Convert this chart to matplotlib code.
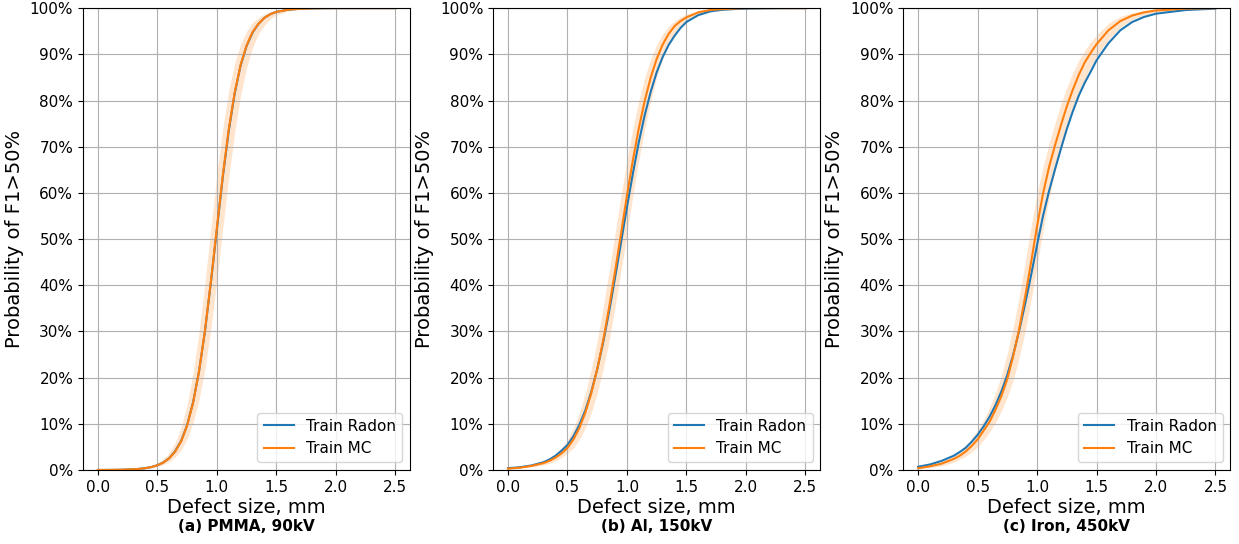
import matplotlib
matplotlib.use("Agg")
import matplotlib.pyplot as plt
from matplotlib.ticker import PercentFormatter

# defect sizes, mm
x = [0.0, 0.1, 0.2, 0.3, 0.35, 0.4, 0.45, 0.5, 0.55, 0.6, 0.65, 0.7, 0.75, 0.8, 0.85,
     0.9, 0.95, 1.0, 1.05, 1.1, 1.15, 1.2, 1.25, 1.3, 1.35, 1.4, 1.45, 1.5,
     1.6, 1.7, 1.8, 1.9, 2.0, 2.25, 2.5]

# (a) PMMA, 90kV
pmma_radon = [0.0001, 0.0002, 0.0006, 0.0016, 0.0026, 0.0041, 0.0065, 0.0103, 0.0163, 0.0258,
              0.041, 0.063, 0.097, 0.146, 0.213, 0.300, 0.406, 0.520, 0.634, 0.734,
              0.815, 0.876, 0.918, 0.947, 0.966, 0.979, 0.987, 0.992,
              0.9967, 0.9987, 0.9995, 0.9998, 1.0, 1.0, 1.0]
pmma_mc = [0.0001, 0.0002, 0.0006, 0.0016, 0.0025, 0.004, 0.0064, 0.0102, 0.0161, 0.0255,
           0.040, 0.062, 0.096, 0.145, 0.213, 0.301, 0.408, 0.523, 0.637, 0.737,
           0.817, 0.877, 0.919, 0.948, 0.966, 0.979, 0.987, 0.992,
           0.9967, 0.9987, 0.9995, 0.9998, 1.0, 1.0, 1.0]
pmma_mc_hi = [0.0001, 0.0003, 0.0009, 0.0022, 0.0036, 0.0058, 0.0093, 0.0149, 0.0239, 0.0378,
              0.0594, 0.092, 0.141, 0.209, 0.298, 0.406, 0.524, 0.639, 0.740, 0.821,
              0.881, 0.922, 0.950, 0.969, 0.980, 0.9876, 0.9923, 0.9952,
              0.9981, 0.9993, 0.9997, 0.9999, 1.0, 1.0, 1.0]
pmma_mc_lo = [0.0001, 0.0002, 0.0005, 0.0012, 0.0019, 0.0030, 0.0047, 0.0073, 0.0115, 0.018,
              0.028, 0.0435, 0.067, 0.102, 0.151, 0.219, 0.306, 0.410, 0.523, 0.633,
              0.731, 0.811, 0.871, 0.914, 0.944, 0.963, 0.977, 0.985,
              0.9939, 0.9975, 0.999, 0.9996, 0.9998, 1.0, 1.0]

# (b) Al, 150kV
al_radon = [0.004, 0.006, 0.010, 0.017, 0.023, 0.031, 0.042, 0.054, 0.073, 0.098,
            0.129, 0.169, 0.218, 0.276, 0.343, 0.416, 0.492, 0.569, 0.642, 0.710,
            0.769, 0.819, 0.861, 0.894, 0.920, 0.940, 0.957, 0.970,
            0.985, 0.993, 0.9965, 0.998, 0.999, 0.9998, 1.0]
al_mc = [0.003, 0.005, 0.009, 0.015, 0.020, 0.027, 0.036, 0.048, 0.066, 0.091,
         0.124, 0.166, 0.218, 0.280, 0.352, 0.430, 0.511, 0.594, 0.671, 0.740,
         0.800, 0.850, 0.890, 0.921, 0.944, 0.961, 0.972, 0.980,
         0.991, 0.996, 0.998, 0.999, 1.0, 1.0, 1.0]
al_mc_hi = [0.004, 0.007, 0.012, 0.020, 0.027, 0.036, 0.048, 0.066, 0.091, 0.124,
            0.166, 0.218, 0.280, 0.352, 0.430, 0.511, 0.594, 0.671, 0.740, 0.800,
            0.850, 0.890, 0.921, 0.944, 0.961, 0.972, 0.981, 0.987,
            0.994, 0.998, 0.999, 1.0, 1.0, 1.0, 1.0]
al_mc_lo = [0.002, 0.004, 0.007, 0.011, 0.015, 0.020, 0.027, 0.036, 0.048, 0.066,
            0.091, 0.124, 0.166, 0.218, 0.280, 0.352, 0.430, 0.511, 0.594, 0.671,
            0.740, 0.800, 0.850, 0.890, 0.921, 0.944, 0.959, 0.970,
            0.984, 0.992, 0.996, 0.998, 0.999, 1.0, 1.0]

# (c) Iron, 450kV
fe_radon = [0.007, 0.012, 0.020, 0.031, 0.039, 0.048, 0.061, 0.076, 0.094, 0.115,
            0.140, 0.170, 0.206, 0.250, 0.302, 0.360, 0.422, 0.487, 0.550, 0.603,
            0.650, 0.695, 0.738, 0.776, 0.810, 0.838, 0.862, 0.887,
            0.924, 0.952, 0.970, 0.981, 0.988, 0.996, 0.999]
fe_mc = [0.004, 0.008, 0.014, 0.024, 0.031, 0.040, 0.052, 0.066, 0.085, 0.104,
         0.130, 0.160, 0.197, 0.247, 0.305, 0.375, 0.450, 0.528, 0.598, 0.655,
         0.702, 0.746, 0.787, 0.823, 0.855, 0.882, 0.903, 0.922,
         0.952, 0.972, 0.984, 0.991, 0.995, 0.999, 1.0]
fe_mc_hi = [0.006, 0.011, 0.019, 0.032, 0.041, 0.053, 0.068, 0.087, 0.108, 0.135,
            0.166, 0.205, 0.252, 0.310, 0.375, 0.450, 0.527, 0.598, 0.656, 0.706,
            0.750, 0.792, 0.828, 0.860, 0.887, 0.908, 0.927, 0.942,
            0.967, 0.982, 0.990, 0.995, 0.998, 1.0, 1.0]
fe_mc_lo = [0.002, 0.005, 0.009, 0.017, 0.023, 0.030, 0.039, 0.050, 0.065, 0.082,
            0.102, 0.128, 0.158, 0.195, 0.243, 0.300, 0.368, 0.442, 0.518, 0.588,
            0.645, 0.695, 0.740, 0.780, 0.815, 0.845, 0.872, 0.895,
            0.932, 0.958, 0.975, 0.985, 0.991, 0.997, 1.0]

panels = [
    ("(a) PMMA, 90kV", pmma_radon, pmma_mc, pmma_mc_lo, pmma_mc_hi),
    ("(b) Al, 150kV", al_radon, al_mc, al_mc_lo, al_mc_hi),
    ("(c) Iron, 450kV", fe_radon, fe_mc, fe_mc_lo, fe_mc_hi),
]

fig = plt.figure(figsize=(12.39, 5.44), dpi=100)
lefts = [0.067, 0.398, 0.729]

for left, (caption, radon, mc, lo, hi) in zip(lefts, panels):
    ax = fig.add_axes([left, 0.136, 0.264, 0.849])
    ax.fill_between(x, lo, hi, color="C1", alpha=0.2, linewidth=0)
    ax.plot(x, radon, color="C0", label="Train Radon")
    ax.plot(x, mc, color="C1", label="Train MC")
    ax.set_ylim(0, 1)
    ax.set_xticks([0.0, 0.5, 1.0, 1.5, 2.0, 2.5])
    ax.set_yticks([i / 10 for i in range(11)])
    ax.yaxis.set_major_formatter(PercentFormatter(1.0, decimals=0))
    ax.tick_params(labelsize=11)
    ax.grid(True)
    ax.set_xlabel("Defect size, mm", fontsize=14, labelpad=2)
    ax.set_ylabel("Probability of F1>50%", fontsize=14)
    ax.legend(loc="lower right", fontsize=11)
    ax.text(0.5, -0.123, caption, transform=ax.transAxes, ha="center", va="center",
            fontsize=11, fontweight="bold")

fig.savefig("out.png", dpi=100)
